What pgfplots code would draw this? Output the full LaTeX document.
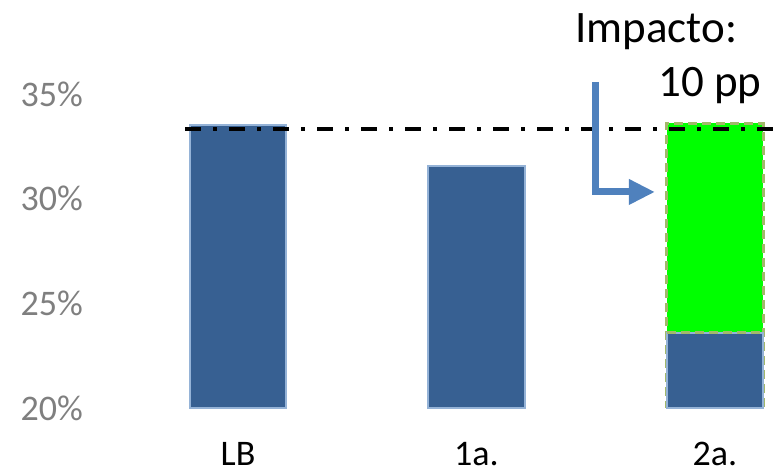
\documentclass[border=0pt]{standalone}
\usepackage{fontspec}
\setmainfont{Carlito}
\usepackage{pgfplots}
\pgfplotsset{compat=1.18}
\usetikzlibrary{arrows.meta}
\definecolor{barblue}{HTML}{376092}
\definecolor{edgeblue}{HTML}{95B3D7}
\definecolor{edgegreen}{HTML}{A2B86A}
\definecolor{arrowblue}{HTML}{4F81BD}
\definecolor{tickgray}{HTML}{7F7F7F}
\begin{document}
\begin{tikzpicture}
\begin{axis}[
  scale only axis, width=683.3bp, height=408bp,
  xmin=-0.58, xmax=2.285, ymin=20, ymax=39.49,
  axis line style={draw=none}, major tick length=0pt,
  xtick={0,1,2}, xticklabels={LB,1a.,2a.},
  ytick={20,25,30,35}, yticklabels={20\%,25\%,30\%,35\%},
  xticklabel style={font=\fontsize{36bp}{40bp}\selectfont, text=black, anchor=base, yshift=-57bp, inner sep=0pt},
  yticklabel style={font=\fontsize{36bp}{40bp}\selectfont, text=tickgray, anchor=east, inner sep=0pt, xshift=-16.7bp},
]
\addplot[ybar, bar width=0.405, bar shift=0pt, fill=green, draw=edgegreen, line width=3bp, dash pattern=on 9bp off 5bp] coordinates {(2,33.6)};
\addplot[ybar, bar width=0.405, bar shift=0pt, fill=barblue, draw=edgeblue, line width=2bp] coordinates {(0,33.5) (1,31.55) (2,23.6)};
\addplot[edgegreen, line width=3bp, dash pattern=on 9bp off 5bp, sharp plot, mark=none] coordinates {(1.7975,23.6) (2.2025,23.6)};
\addplot[black, line width=4bp, dash pattern=on 16bp off 12bp on 4bp off 12bp, sharp plot, mark=none] coordinates {(-0.222,33.35) (2.4,33.35)};
\draw[arrowblue, line width=7bp, line join=miter, -{Triangle[length=26bp 0, width=24bp 0]}] (axis cs:1.497,35.58) -- (axis cs:1.497,30.32) -- (axis cs:1.748,30.32);
\node[anchor=base west, font=\fontsize{45bp}{50bp}\selectfont, inner sep=0pt] at (axis cs:1.413,37.44) {Impacto:};
\node[anchor=base west, font=\fontsize{45bp}{50bp}\selectfont, inner sep=0pt] at (axis cs:1.761,34.86) {10 pp};
\end{axis}
\pgfresetboundingbox
\path[use as bounding box] (current axis.south west) ++(-99.7bp,-64bp) rectangle (current axis.north east);
\end{tikzpicture}
\end{document}
